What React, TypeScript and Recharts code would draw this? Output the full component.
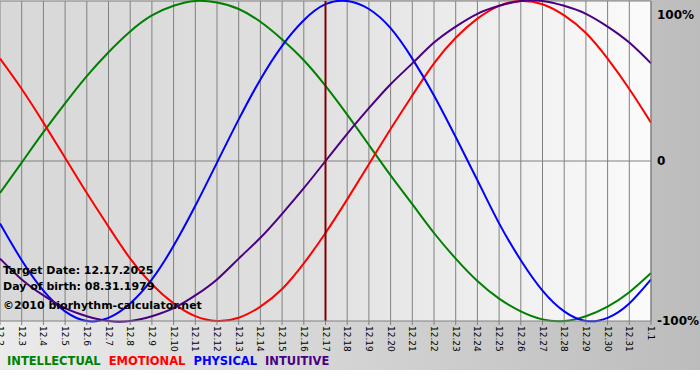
import React from "react";
import {
  LineChart,
  Line,
  XAxis,
  YAxis,
  CartesianGrid,
  ReferenceLine,
} from "recharts";

const days = [
  "12.2", "12.3", "12.4", "12.5", "12.6", "12.7", "12.8", "12.9", "12.10", "12.11",
  "12.12", "12.13", "12.14", "12.15", "12.16", "12.17", "12.18", "12.19", "12.20", "12.21",
  "12.22", "12.23", "12.24", "12.25", "12.26", "12.27", "12.28", "12.29", "12.30", "12.31",
  "1.1",
];

const intellectual = [
  -20, -1, 18, 36, 53, 68, 81, 91, 97, 100, 99, 95, 87, 76, 63, 47, 29, 10, -9, -27,
  -45, -61, -75, -86, -94, -99, -100, -97, -91, -82, -70,
];

const emotional = [
  64, 45, 24, 2, -20, -41, -61, -77, -89, -97, -100, -98, -91, -80, -64, -45, -24, -2, 20, 41,
  61, 77, 89, 97, 100, 98, 91, 80, 64, 45, 24,
];

const physical = [
  -39, -62, -81, -94, -100, -98, -89, -74, -53, -28, -1, 26, 51, 72, 88, 98, 100, 95, 83, 64,
  41, 15, -12, -39, -62, -81, -94, -100, -98, -89, -74,
];

const intuitive = [
  -61, -74, -84, -92, -97, -100, -100, -97, -92, -84, -74, -61, -48, -33, -17, 0, 17, 33, 48, 61,
  74, 84, 92, 97, 100, 100, 97, 92, 84, 74, 61,
];

const yTicks = [-100, 0, 100];

const series = [
  { key: "intellectual", label: "INTELLECTUAL", color: "#008000" },
  { key: "emotional", label: "EMOTIONAL", color: "#ff0000" },
  { key: "physical", label: "PHYSICAL", color: "#0000ff" },
  { key: "intuitive", label: "INTUITIVE", color: "#4b0082" },
];

const data = days.map((day, i) => ({
  day,
  intellectual: intellectual[i],
  emotional: emotional[i],
  physical: physical[i],
  intuitive: intuitive[i],
}));

const FONT = "'DejaVu Sans', Verdana, sans-serif";

const DayTick = ({ x, y, payload }: any) => (
  <text
    transform={`translate(${x},${y + 1}) rotate(90)`}
    textAnchor="start"
    dominantBaseline="central"
    fontSize={9}
    fontFamily={FONT}
    fill="#000"
  >
    {payload.value}
  </text>
);

const PercentTick = ({ x, y, payload }: any) => {
  let dy = 0;
  if (payload.value === 100) dy = 6;
  return (
    <text
      x={x - 2}
      y={y + dy}
      textAnchor="start"
      dominantBaseline="central"
      fontSize={12}
      fontWeight="bold"
      fontFamily={FONT}
      fill="#000"
    >
      {payload.value === 0 ? "0" : `${payload.value}%`}
    </text>
  );
};

const infoStyle: React.CSSProperties = {
  position: "absolute",
  left: 3,
  fontFamily: FONT,
  fontSize: 11,
  fontWeight: "bold",
  color: "#000",
  whiteSpace: "nowrap",
  lineHeight: "14px",
};

export default function App() {
  return (
    <div style={{ position: "absolute", left: 0, top: 0, width: 700, height: 380, background: "#fff" }}>
      <div
        style={{
          position: "absolute",
          left: 0,
          top: 0,
          width: 700,
          height: 370,
          background: "linear-gradient(to right, #ebebeb, #bcbcbc)",
        }}
      />
      <LineChart
        width={700}
        height={370}
        data={data}
        margin={{ top: 1, right: 0, bottom: 0, left: 0 }}
        style={{ position: "absolute", left: 0, top: 0 }}
      >
        <defs>
          <linearGradient id="plotBg" x1="0" y1="0" x2="1" y2="0">
            <stop offset="0%" stopColor="#d8d8d8" />
            <stop offset="45%" stopColor="#dfdfdf" />
            <stop offset="100%" stopColor="#fbfbfb" />
          </linearGradient>
        </defs>
        <CartesianGrid horizontal={false} stroke="#808080" fill="url(#plotBg)" fillOpacity={1} />
        <XAxis
          dataKey="day"
          interval={0}
          height={49}
          tickSize={4}
          tickMargin={0}
          tick={<DayTick />}
          stroke="#808080"
          tickLine={{ stroke: "#808080" }}
        />
        <YAxis
          orientation="right"
          width={49}
          domain={[-100, 100]}
          ticks={yTicks}
          tickLine={false}
          tick={<PercentTick />}
          stroke="#808080"
        />
        <ReferenceLine y={0} stroke="#808080" />
        <ReferenceLine y={100} stroke="#808080" />
        {series.map((s) => (
          <Line
            key={s.key}
            type="natural"
            dataKey={s.key}
            stroke={s.color}
            strokeWidth={2}
            dot={false}
            isAnimationActive={false}
          />
        ))}
        <ReferenceLine x="12.17" stroke="#800000" strokeWidth={2} />
      </LineChart>
      <div style={{ ...infoStyle, top: 264 }}>Target Date: 12.17.2025</div>
      <div style={{ ...infoStyle, top: 280 }}>Day of birth: 08.31.1979</div>
      <div style={{ ...infoStyle, top: 299 }}>©2010 biorhythm-calculator.net</div>
      <div
        style={{
          position: "absolute",
          left: 7,
          top: 353,
          fontFamily: FONT,
          fontSize: 11.5,
          fontWeight: "bold",
          whiteSpace: "nowrap",
          lineHeight: "16px",
        }}
      >
        {series.map((s) => (
          <span key={s.key} style={{ color: s.color, marginRight: 8 }}>
            {s.label}
          </span>
        ))}
      </div>
    </div>
  );
}
